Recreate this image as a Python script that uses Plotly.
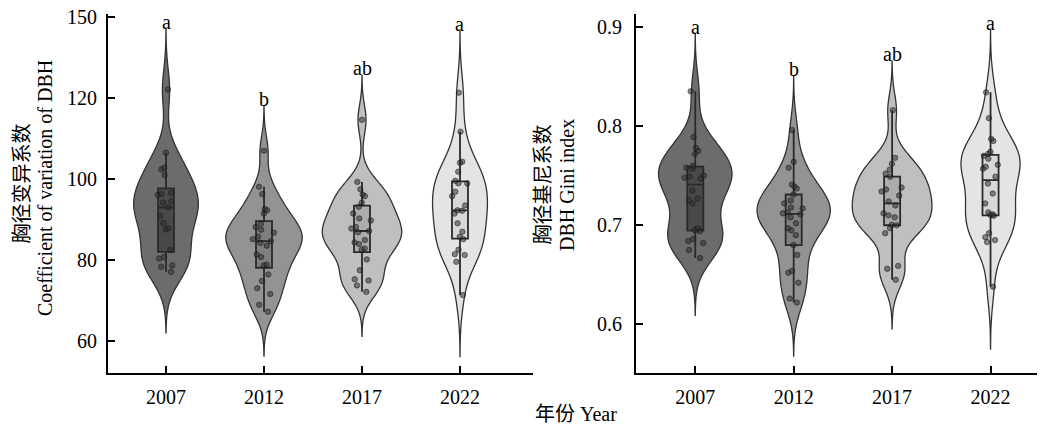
import plotly.graph_objects as go

# ---------------- data ----------------
years = ["2007", "2012", "2017", "2022"]

cv_2007 = [122.1, 106.5, 102.8, 102.4, 101.0, 96.6, 96.3, 96.1, 94.5, 94.2, 93.0,
           90.9, 89.2, 87.9, 87.6, 82.5, 80.8, 80.4, 78.7, 78.4, 77.1]
cv_2012 = [107.0, 98.1, 96.3, 92.6, 92.3, 91.5, 89.0, 88.2, 87.5, 86.8, 85.8, 85.2,
           84.7, 84.3, 83.6, 81.4, 80.8, 78.9, 78.7, 76.5, 74.9, 73.1, 71.7, 69.0, 67.3]
cv_2017 = [114.6, 99.3, 97.5, 96.2, 95.8, 94.2, 93.2, 91.5, 90.3, 89.8, 88.2, 87.8,
           87.2, 86.9, 85.0, 84.4, 84.0, 82.9, 82.6, 80.2, 77.5, 75.3, 75.0, 73.8, 72.2]
cv_2022 = [121.3, 111.7, 104.3, 104.0, 101.8, 99.6, 99.0, 98.9, 96.9, 95.8, 93.5,
           92.3, 92.2, 91.5, 89.1, 87.0, 85.8, 85.2, 82.6, 81.5, 81.3, 79.6, 71.4]

gini_2007 = [0.835, 0.789, 0.778, 0.775, 0.772, 0.760, 0.758, 0.757, 0.750, 0.749,
             0.748, 0.747, 0.735, 0.727, 0.725, 0.722, 0.697, 0.695, 0.694, 0.686,
             0.684, 0.682, 0.675, 0.667]
gini_2012 = [0.796, 0.764, 0.758, 0.741, 0.739, 0.737, 0.731, 0.725, 0.722, 0.718,
             0.717, 0.713, 0.712, 0.711, 0.708, 0.702, 0.697, 0.695, 0.690, 0.680,
             0.670, 0.654, 0.652, 0.642, 0.626, 0.622]
gini_2017 = [0.816, 0.768, 0.762, 0.756, 0.752, 0.749, 0.738, 0.736, 0.734, 0.730,
             0.724, 0.720, 0.712, 0.710, 0.708, 0.7005, 0.700, 0.697, 0.692, 0.659,
             0.656, 0.645]
gini_2022 = [0.834, 0.808, 0.787, 0.785, 0.774, 0.772, 0.770, 0.767, 0.761, 0.759,
             0.757, 0.749, 0.742, 0.732, 0.722, 0.713, 0.711, 0.7105, 0.7095, 0.692,
             0.688, 0.685, 0.683, 0.638]

cv_groups = [cv_2007, cv_2012, cv_2017, cv_2022]
gini_groups = [gini_2007, gini_2012, gini_2017, gini_2022]

cv_letters = ["a", "b", "ab", "a"]
gini_letters = ["a", "b", "ab", "a"]

# kernel bandwidths (density estimate)
cv_bw = [5.0, 3.65, 3.65, 5.05]
gini_bw = [0.0193, 0.018, 0.0165, 0.021]

cv_tickvals = [60, 80, 100, 120, 140]
cv_ticktext = ["60", "80", "100", "120", "150"]
gini_tickvals = [0.6, 0.7, 0.8, 0.9]
gini_ticktext = ["0.6", "0.7", "0.8", "0.9"]

# ---------------- style ----------------
FONT = "Liberation Serif, 'Times New Roman', 'Noto Sans CJK SC', serif"
FS = 20
fill_colors = ["#6c6c6c", "#939393", "#bfbfbf", "#e4e4e4"]
box_fills = ["rgba(30,30,30,0.45)", "rgba(40,40,40,0.18)",
             "rgba(40,40,40,0.12)", "rgba(40,40,40,0.06)"]
cv_widths = [0.66, 0.78, 0.81, 0.56]
gini_widths = [0.745, 0.745, 0.81, 0.60]
BOX_PX = 16.0
CAT_PX = 98.0

# page body has an 8 px margin: size the figure to fit the window
OFF = 8
W, H = 1045 - OFF, 429 - OFF


def px_x(p):
    return (p - OFF) / W


def px_y(p):
    return 1 - (p - OFF) / H


fig = go.Figure()


def add_panel(groups, bws, widths, letters, xa, ya):
    for i, (yr, vals) in enumerate(zip(years, groups)):
        bw = bws[i]
        lo, hi = min(vals) - 3 * bw, max(vals) + 3 * bw
        fig.add_trace(go.Violin(
            x=[yr] * len(vals), y=vals, xaxis=xa, yaxis=ya,
            name=yr, showlegend=False,
            fillcolor=fill_colors[i], opacity=1,
            line=dict(color="#333333", width=1.3),
            bandwidth=bw, spanmode="manual", span=[lo, hi],
            width=widths[i], scalemode="width",
            points="all", jitter=0.3, pointpos=0,
            marker=dict(size=5.5, color="rgba(45,45,45,0.55)",
                        line=dict(color="rgba(20,20,20,0.6)", width=0.8)),
            box=dict(visible=True, width=BOX_PX / (widths[i] * CAT_PX),
                     fillcolor=box_fills[i],
                     line=dict(color="#2a2a2a", width=1.8)),
            meanline=dict(visible=False),
            hoverinfo="skip",
        ))
        fig.add_annotation(x=i, y=hi, xref=xa, yref=ya, text=letters[i],
                           showarrow=False, yanchor="bottom", yshift=-6,
                           font=dict(family=FONT, size=FS, color="black"))


add_panel(cv_groups, cv_bw, cv_widths, cv_letters, "x", "y")
add_panel(gini_groups, gini_bw, gini_widths, gini_letters, "x2", "y2")

axis_common = dict(showline=True, linecolor="black", linewidth=2, ticks="inside",
                   ticklen=7, tickwidth=2, tickcolor="black", showgrid=False,
                   zeroline=False, mirror=False, automargin=False,
                   ticklabeloverflow="allow",
                   tickfont=dict(family=FONT, size=FS, color="black"))

ydom = [px_y(373), px_y(14)]
fig.update_layout(
    width=W, height=H, margin=dict(l=0, r=0, t=0, b=0, autoexpand=False),
    paper_bgcolor="white", plot_bgcolor="white",
    violinmode="overlay",
    xaxis=dict(domain=[px_x(108), px_x(533)], range=[-0.592, 3.745],
               type="category", anchor="y", ticklabelstandoff=5, **axis_common),
    yaxis=dict(domain=ydom, range=[52.2, 140.7], anchor="x",
               tickvals=cv_tickvals, ticktext=cv_ticktext, ticklabelstandoff=5,
               **axis_common),
    xaxis2=dict(domain=[px_x(636), px_x(1043)], range=[-0.602, 3.533],
                type="category", anchor="y2", ticklabelstandoff=5, **axis_common),
    yaxis2=dict(domain=ydom, range=[0.551, 0.913], anchor="x2",
                tickvals=gini_tickvals, ticktext=gini_ticktext, ticklabelstandoff=8,
                **axis_common),
)

titles = [
    ("胸径变异系数", 21.5, 184, -90),
    ("Coefficient of variation of DBH", 45, 188, -90),
    ("胸径基尼系数", 542.5, 185, -90),
    ("DBH Gini index", 567, 185, -90),
    ("年份 Year", 575.5, 414, 0),
]
for txt, x, y, ang in titles:
    fig.add_annotation(x=px_x(x), y=px_y(y), xref="paper", yref="paper",
                       text=txt, showarrow=False, textangle=ang,
                       xanchor="center", yanchor="middle",
                       font=dict(family=FONT, size=FS, color="black"))

fig.write_html("out.html")
